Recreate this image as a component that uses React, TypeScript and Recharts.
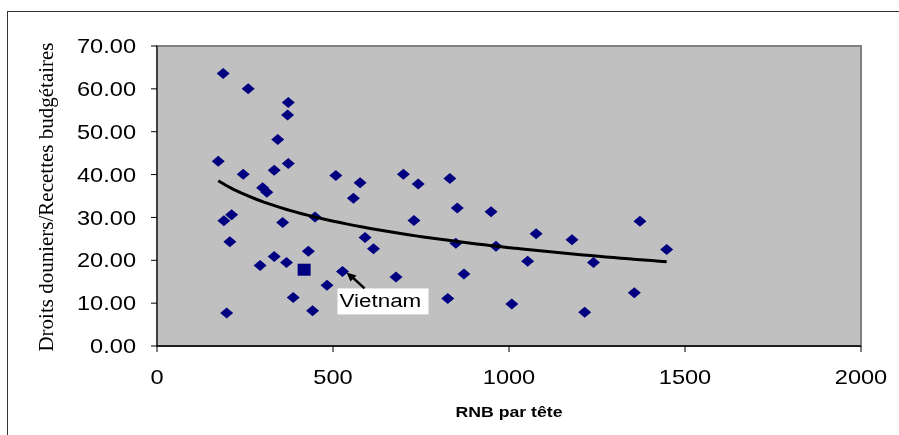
import { ScatterChart, Scatter, XAxis, YAxis, CartesianGrid, ReferenceArea, ReferenceDot } from 'recharts';

// RNB par tête (x) / droits douaniers en % des recettes (y)
const rnb = [
  188, 259, 373, 371, 343, 174, 373, 245, 333, 508, 577, 300, 312, 558,
  190, 212, 357, 449, 207, 591, 615, 430, 333, 368, 293, 527, 483, 387,
  442, 198, 679, 700, 742, 832, 853, 949, 730, 849, 963, 1077, 1179, 1053,
  1240, 872, 826, 1008, 1215, 1372, 1448, 1356,
];
const droits = [
  63.6, 60.0, 56.8, 53.9, 48.2, 43.1, 42.6, 40.1, 41.0, 39.8, 38.1, 36.9, 35.9, 34.5,
  29.2, 30.6, 28.8, 30.1, 24.3, 25.3, 22.7, 22.1, 20.9, 19.5, 18.8, 17.4, 14.2, 11.3,
  8.2, 7.7, 16.1, 40.1, 37.8, 39.1, 32.2, 31.3, 29.3, 24.0, 23.3, 26.2, 24.8, 19.8,
  19.5, 16.8, 11.1, 9.8, 7.9, 29.1, 22.5, 12.4,
];
const squareRnb = [418];
const squareDroits = [17.8];
const vietnam = { x: 527, y: 17.4, label: 'Vietnam' };

const xTicks = [0, 500, 1000, 1500, 2000];
const yTicks = [0, 10, 20, 30, 40, 50, 60, 70];

const points = rnb.map((x, i) => ({ x, y: droits[i] }));
const squarePts = squareRnb.map((x, i) => ({ x, y: squareDroits[i] }));

// logarithmic trend line (least squares on ln x), as Excel does
const lx = rnb.map(Math.log);
const mx = lx.reduce((s, v) => s + v, 0) / lx.length;
const my = droits.reduce((s, v) => s + v, 0) / droits.length;
let sxy = 0;
let sxx = 0;
lx.forEach((v, i) => {
  sxy += (v - mx) * (droits[i] - my);
  sxx += (v - mx) * (v - mx);
});
const slope = sxy / sxx;
const icpt = my - slope * mx;
const xMin = Math.min(...rnb);
const xMax = Math.max(...rnb);
const trend = Array.from({ length: 60 }, (_, i) => {
  const x = xMin + ((xMax - xMin) * i) / 59;
  return { x, y: icpt + slope * Math.log(x) };
});

const NAVY = '#000080';
const SX = 1.18;
const SANS = 'Liberation Sans, Arial, sans-serif';

const Diamond = (props: any) => {
  const { cx, cy } = props;
  return <polygon points={`${cx - 6.5},${cy} ${cx},${cy - 5.5} ${cx + 6.5},${cy} ${cx},${cy + 5.5}`} fill={NAVY} />;
};

const Square = (props: any) => {
  const { cx, cy } = props;
  return <rect x={cx - 6.5} y={cy - 6} width={13} height={12} fill={NAVY} />;
};

const XTick = (props: any) => {
  const { x, y, payload } = props;
  return (
    <g transform={`translate(${x},${y}) scale(${SX},1)`}>
      <text x={0} y={0} dy={30} textAnchor="middle" fontFamily={SANS} fontSize={20} fill="#000">
        {payload.value}
      </text>
    </g>
  );
};

const YTick = (props: any) => {
  const { x, y, payload } = props;
  return (
    <g transform={`translate(${x},${y}) scale(${SX},1)`}>
      <text x={0} y={0} dy="0.36em" textAnchor="end" fontFamily={SANS} fontSize={20} fill="#000">
        {Number(payload.value).toFixed(2)}
      </text>
    </g>
  );
};

const VietnamNote = (props: any) => {
  const { cx, cy } = props;
  return (
    <g>
      <rect x={cx - 5} y={cy + 17} width={91} height={26} fill="#fff" />
      <g transform={`translate(${cx - 3},${cy + 36}) scale(${SX},1)`}>
        <text x={0} y={0} fontFamily={SANS} fontSize={19} fill="#000">
          {vietnam.label}
        </text>
      </g>
      <line x1={cx + 22} y1={cy + 17} x2={cx + 9} y2={cy + 5} stroke="#000" strokeWidth={2.5} />
      <polygon points={`${cx + 4},${cy + 1} ${cx + 14},${cy + 4} ${cx + 8},${cy + 10}`} fill="#000" />
    </g>
  );
};

export default function App() {
  return (
    <div style={{ position: 'relative', width: 883, height: 419, background: '#fff' }}>
      <div
        style={{
          position: 'fixed',
          left: 7,
          top: 11,
          width: 2000,
          height: 2000,
          borderTop: '1.5px solid #333',
          borderLeft: '1.5px solid #333',
          pointerEvents: 'none',
        }}
      />
      <ScatterChart
        width={883}
        height={419}
        margin={{ top: 38, right: 30, left: 0, bottom: 0 }}
        style={{ position: 'absolute', left: 0, top: 0 }}
      >
        <CartesianGrid fill="#C0C0C0" horizontal={false} vertical={false} />
        <ReferenceArea x1={0} x2={2000} y1={0} y2={70} fill="none" stroke="#808080" strokeWidth={2} />
        <XAxis
          type="number"
          dataKey="x"
          domain={[0, 2000]}
          ticks={xTicks}
          height={81}
          tickSize={6}
          tickMargin={2}
          axisLine={{ stroke: '#000', strokeWidth: 1.5 }}
          tickLine={{ stroke: '#000' }}
          tick={<XTick />}
          label={(p: any) => {
            const vb = p.viewBox;
            return (
              <g transform={`translate(${vb.x + vb.width / 2},${vb.y + 71}) scale(${SX},1)`}>
                <text x={0} y={0} textAnchor="middle" fontFamily={SANS} fontSize={15} fontWeight="bold" fill="#000">
                  RNB par tête
                </text>
              </g>
            );
          }}
        />
        <YAxis
          type="number"
          dataKey="y"
          domain={[0, 70]}
          ticks={yTicks}
          width={149}
          tickSize={6}
          tickMargin={15}
          axisLine={{ stroke: '#000', strokeWidth: 1 }}
          tickLine={{ stroke: '#000' }}
          tick={<YTick />}
          label={(p: any) => {
            const vb = p.viewBox;
            return (
              <text
                transform={`translate(${vb.x + 45},${vb.y + vb.height / 2 + 1}) rotate(-90)`}
                textAnchor="middle"
                fontFamily="Liberation Serif, Times New Roman, serif"
                fontSize={21}
                fill="#000"
              >
                Droits douniers/Recettes budgétaires
              </text>
            );
          }}
        />
        <Scatter data={points} shape={<Diamond />} isAnimationActive={false} />
        <Scatter data={squarePts} shape={<Square />} isAnimationActive={false} />
        <Scatter
          data={trend}
          shape={() => <g />}
          line={{ stroke: '#000', strokeWidth: 3 }}
          lineType="joint"
          isAnimationActive={false}
        />
        <ReferenceDot x={vietnam.x} y={vietnam.y} r={0} shape={(p: any) => <VietnamNote cx={p.cx} cy={p.cy} />} />
      </ScatterChart>
    </div>
  );
}
